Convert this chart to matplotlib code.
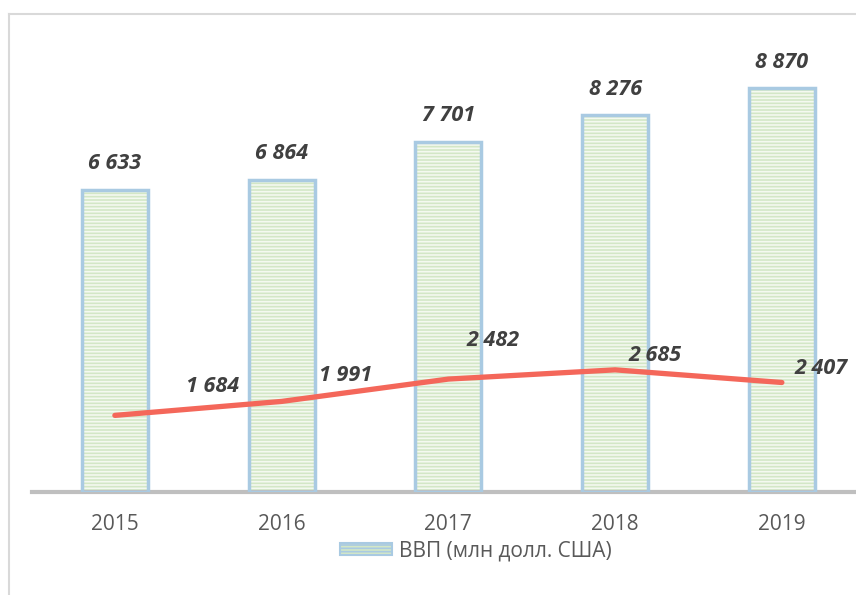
import matplotlib.pyplot as plt
from matplotlib.lines import Line2D

years = ["2015", "2016", "2017", "2018", "2019"]
gdp = [6633, 6864, 7701, 8276, 8870]
second = [1684, 1991, 2482, 2685, 2407]
gdp_labels = ["6 633", "6 864", "7 701", "8 276", "8 870"]
second_labels = ["1 684", "1 991", "2 482", "2 685", "2 407"]
legend_text = "ВВП (млн долл. США)"

# label offsets for the line values (points)
line_off = [(70, 21), (46, 19), (32, 28), (29, 10), (28, 10)]

plt.rcParams['font.family'] = ['Open Sans', 'DejaVu Sans']
plt.rcParams['hatch.linewidth'] = 1.2

fig = plt.figure(figsize=(8.56, 5.95), dpi=100)
ax = fig.add_axes([0.0368, 0.1731, 0.974, 0.7647])

x = list(range(len(years)))
bars = ax.bar(x, gdp, width=0.395, color="#d3e7c6", edgecolor="#f4f9f0",
              hatch="-----", linewidth=0, label=legend_text, zorder=2)
ax.bar(x, gdp, width=0.395, fill=False, edgecolor="#a9cae2", linewidth=2.5, zorder=3)

ax.plot(x, second, color="#f4675a", linewidth=3.8, solid_capstyle="round", zorder=4)

for i in x:
    ax.annotate(gdp_labels[i], (i, gdp[i]), xytext=(0, 19), textcoords="offset points",
                ha="center", va="center", fontsize=15.5, fontweight="bold",
                fontstyle="italic", color="#404040")
    ax.annotate(second_labels[i], (i, second[i]), xytext=line_off[i], textcoords="offset points",
                ha="center", va="center", fontsize=15.5, fontweight="bold",
                fontstyle="italic", color="#404040", zorder=5)

ax.set_xlim(-0.5, 4.5)
ax.set_ylim(0, 10000)
ax.set_xticks(x)
ax.set_xticklabels(years, fontsize=15, color="#595959")
ax.tick_params(axis="x", length=0, pad=16)
ax.set_yticks([])
for s in ["top", "right", "left"]:
    ax.spines[s].set_visible(False)
ax.spines["bottom"].set_color("#bfbfbf")
ax.spines["bottom"].set_linewidth(3)

leg = fig.legend(handles=[bars[0]], labels=[legend_text], loc="center",
                 bbox_to_anchor=(0.556, 0.074), frameon=False, fontsize=15,
                 labelcolor="#595959", handlelength=2.5, handleheight=0.55, handletextpad=0.3)
leg.legend_handles[0].set_edgecolor("#a9cae2")
leg.legend_handles[0].set_linewidth(1.5)

# outer chart frame
fig.add_artist(Line2D([8.5 / 856, 8.5 / 856], [0, 1 - 13.5 / 595], color="#d9d9d9", lw=1.5))
fig.add_artist(Line2D([8.5 / 856, 1], [1 - 13.5 / 595, 1 - 13.5 / 595], color="#d9d9d9", lw=1.5))

plt.savefig("out.png", dpi=100)
